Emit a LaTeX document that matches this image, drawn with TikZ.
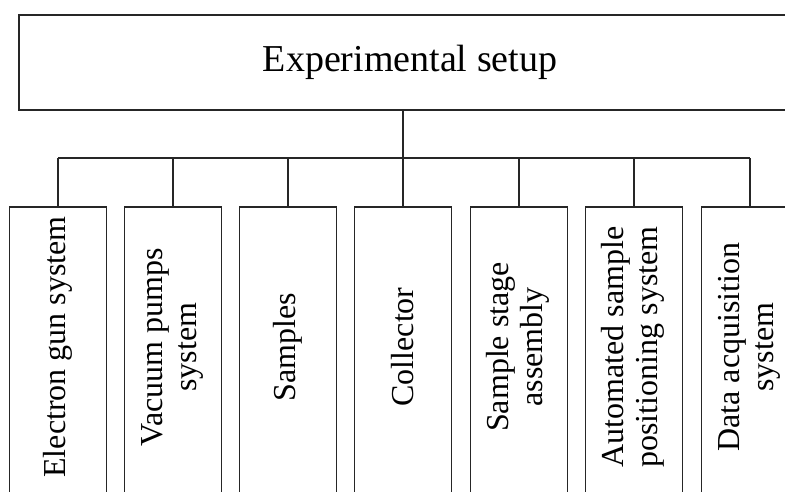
\documentclass[tikz,border=0pt]{standalone}
\usepackage{fontspec}
\setmainfont{Liberation Serif}
\newcommand{\vtext}[1]{\rotatebox{90}{\hspace{13pt}#1}}
\begin{document}
\begin{tikzpicture}[x=1pt,y=-1pt,
  topbox/.style={draw=black!85, line width=2pt, minimum width=782pt, minimum height=95pt, inner sep=0pt, font=\fontsize{38}{44}\selectfont},
  subbox/.style={draw=black!85, line width=1.8pt, minimum width=97pt, minimum height=293pt, inner sep=0pt, font=\fontsize{32}{34}\selectfont},
  conn/.style={line width=1.8pt, draw=black!85}]
\fill[white] (0,0) rectangle (785,491);
\useasboundingbox (0,0) rectangle (785,491);
\clip (0,0) rectangle (785,491);
\node[topbox] (top) at (410,62) {Experimental setup};
\node[subbox] (b1) at (58,353.5) {\vtext{Electron gun system}};
\node[subbox] (b2) at (173,353.5) {\vtext{\begin{tabular}{@{}c@{}}Vacuum pumps\\system\end{tabular}}};
\node[subbox] (b3) at (288,353.5) {\vtext{Samples}};
\node[subbox] (b4) at (403,353.5) {\vtext{Collector}};
\node[subbox] (b5) at (519,353.5) {\vtext{\begin{tabular}{@{}c@{}}Sample stage\\assembly\end{tabular}}};
\node[subbox] (b6) at (634,353.5) {\vtext{\begin{tabular}{@{}c@{}}Automated sample\\positioning system\end{tabular}}};
\node[subbox] (b7) at (750,353.5) {\vtext{\begin{tabular}{@{}c@{}}Data acquisition\\system\end{tabular}}};
\coordinate (bus) at (403,158);
\draw[conn] (b4.north |- top.south) -- (bus);
\draw[conn] (b1.north |- bus) -- (b7.north |- bus);
\foreach \b in {b1,b2,b3,b4,b5,b6,b7}{
  \draw[conn] (\b.north |- bus) -- (\b.north);
}
\end{tikzpicture}
\end{document}
